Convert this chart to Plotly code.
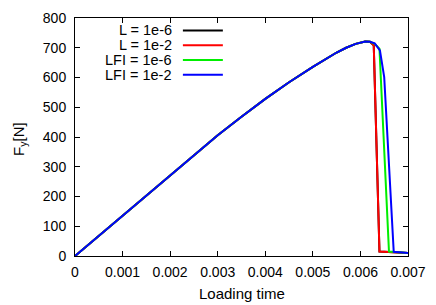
import plotly.graph_objects as go

# Shared loading branch (before peak)
t_common = [0, 0.0005, 0.001, 0.0015, 0.002, 0.0025, 0.003, 0.0035, 0.004,
            0.0045, 0.005, 0.0055, 0.0057, 0.0059, 0.006, 0.0061, 0.0062]
f_common = [0, 68, 136, 204, 272, 340, 406, 468, 528,
            584, 636, 684, 700, 713, 718, 721, 720]

# Post-peak branches
t_L6 = [0.00628, 0.0064, 0.0066, 0.007]
f_L6 = [708, 15, 14, 10]
t_L2 = [0.00628, 0.0064, 0.0066, 0.007]
f_L2 = [708, 15, 14, 10]
t_LFI6 = [0.0063, 0.0064, 0.0066, 0.007]
f_LFI6 = [713, 697, 15, 10]
t_LFI2 = [0.0063, 0.00641, 0.0065, 0.0067, 0.007]
f_LFI2 = [715, 691, 601, 14, 10]

names = ["L = 1e-6", "L = 1e-2", "LFI = 1e-6", "LFI = 1e-2"]
colors = ["#000000", "#ff0000", "#00ee00", "#0000ff"]
tails = [(t_L6, f_L6), (t_L2, f_L2), (t_LFI6, f_LFI6), (t_LFI2, f_LFI2)]

x_title = "Loading time"
y_title = "F<sub>y</sub>[N]"

FONT = "Liberation Sans, Arial, sans-serif"

fig = go.Figure()
for name, col, (tt, ff) in zip(names, colors, tails):
    fig.add_trace(go.Scatter(x=t_common + tt, y=f_common + ff, mode="lines",
                             name=name, line=dict(color=col, width=2),
                             showlegend=False))

# gnuplot-style key: right-aligned text, line sample on the right
row_y = [0.948, 0.886, 0.824, 0.762]
for name, col, yy in zip(names, colors, row_y):
    fig.add_annotation(x=0.296, y=yy, xref="paper", yref="paper", text=name,
                       showarrow=False, xanchor="right", yanchor="middle",
                       font=dict(family=FONT, size=14.5, color="black"))
    fig.add_shape(type="line", xref="paper", yref="paper",
                  x0=0.324, x1=0.444, y0=yy, y1=yy,
                  line=dict(color=col, width=2))

# axis titles
fig.add_annotation(x=0.5, y=0, xref="paper", yref="paper", text=x_title,
                   showarrow=False, xanchor="center", yanchor="top", yshift=-27,
                   font=dict(family=FONT, size=15, color="black"))
fig.add_annotation(x=0, y=0.49, xref="paper", yref="paper", text=y_title,
                   showarrow=False, xanchor="left", yanchor="middle", xshift=-67,
                   textangle=-90, font=dict(family=FONT, size=15, color="black"))

axis_common = dict(showline=True, linecolor="black", linewidth=1, mirror="ticks",
                   ticks="inside", ticklen=5, tickcolor="black", showgrid=False,
                   zeroline=False, automargin=False,
                   tickfont=dict(family=FONT, size=14, color="black"))

# the page body adds an 8px offset; margins compensate for it
fig.update_layout(
    width=436, height=305,
    margin=dict(l=67, r=36, t=10, b=57),
    paper_bgcolor="white", plot_bgcolor="white",
    xaxis=dict(range=[0, 0.007], tickvals=[0, 0.001, 0.002, 0.003, 0.004, 0.005, 0.006, 0.007],
               ticktext=["0", "0.001", "0.002", "0.003", "0.004", "0.005", "0.006", "0.007"],
               ticklabelstandoff=3, **axis_common),
    yaxis=dict(range=[0, 800], tickvals=[0, 100, 200, 300, 400, 500, 600, 700, 800],
               ticklabelstandoff=5, **axis_common),
)

fig.write_html("out.html")
